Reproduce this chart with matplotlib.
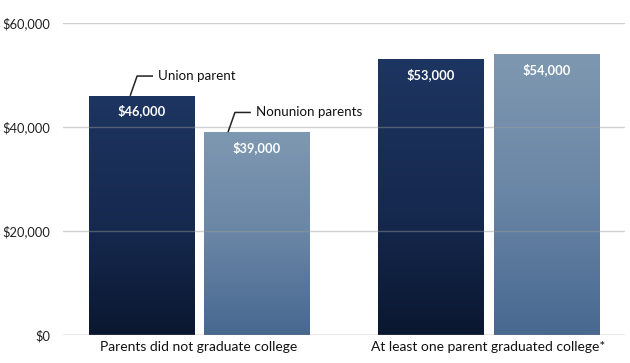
import matplotlib
matplotlib.use("Agg")
import matplotlib.pyplot as plt
import numpy as np
from matplotlib.colors import LinearSegmentedColormap

categories = ["Parents did not graduate college", "At least one parent graduated college*"]
union_values = [46000, 53000]
nonunion_values = [39000, 54000]
series_names = ["Union parent", "Nonunion parents"]
yticks = [0, 20000, 40000, 60000]
ytick_labels = ["$0", "$20,000", "$40,000", "$60,000"]

plt.rcParams['font.family'] = ['Lato', 'DejaVu Sans']

fig = plt.figure(figsize=(6.3, 3.63), dpi=100)
ax = fig.add_axes([0.1, 0.0771, 0.892, 0.8595])

x = np.arange(len(categories))
off = 0.2
w = 0.363

bars_u = ax.bar(x - off, union_values, width=w, color="none", edgecolor="none", zorder=2)
bars_n = ax.bar(x + off, nonunion_values, width=w, color="none", edgecolor="none", zorder=2)

cmap_u = LinearSegmentedColormap.from_list("u", [(0, "#0a1730"), (0.45, "#16294f"), (1, "#1d3561")])
cmap_n = LinearSegmentedColormap.from_list("n", [(0, "#486890"), (0.5, "#6a86a6"), (1, "#7f98b1")])
grad = np.linspace(0, 1, 256).reshape(-1, 1)

for bars, cmap in ((bars_u, cmap_u), (bars_n, cmap_n)):
    for b in bars:
        x0 = b.get_x()
        bw, bh = b.get_width(), b.get_height()
        im = ax.imshow(grad, cmap=cmap, origin="lower", aspect="auto",
                       extent=[x0, x0 + bw, 0, bh], zorder=2)
        im.set_clip_path(b)

# gridlines
for t in yticks[1:]:
    ax.axhline(t, color="#9a9a9a", alpha=0.45, lw=1.0, zorder=3)
ax.axhline(0, color="#8a8a8a", lw=1.0, zorder=3)

ax.set_xlim(-0.47, 1.4715)
ax.set_ylim(0, 60000)
ax.set_yticks(yticks)
ax.set_yticklabels(ytick_labels)
ax.tick_params(axis="y", length=0, pad=9, labelsize=9.3, labelcolor="#222222")
ax.set_xticks(x)
ax.set_xticklabels(categories)
ax.tick_params(axis="x", length=0, pad=4, labelsize=10, labelcolor="#111111")
for s in ax.spines.values():
    s.set_visible(False)

# value labels
for bars, vals in ((bars_u, union_values), (bars_n, nonunion_values)):
    for b, v in zip(bars, vals):
        ax.annotate(f"${v:,}", (b.get_x() + b.get_width() / 2, v),
                    xytext=(0, -11), textcoords="offset points",
                    ha="center", va="center", color="white",
                    fontsize=9.3, fontweight="bold", zorder=5)

# leader annotations
def leader(bx, v, name):
    pts_x = [bx + 0.0, bx + 0.024, bx + 0.079]
    pts_y = [v, v + 3800, v + 3800]
    ax.plot(pts_x, pts_y, color="#222222", lw=1.1, zorder=6, clip_on=False,
            solid_capstyle="butt")
    ax.text(bx + 0.096, v + 3800, name, ha="left", va="center",
            fontsize=9.6, color="#111111", zorder=6)

leader(x[0] - off - 0.038, union_values[0], series_names[0])
leader(x[0] + off - 0.1, nonunion_values[0], series_names[1])

fig.savefig("out.png", dpi=100)
